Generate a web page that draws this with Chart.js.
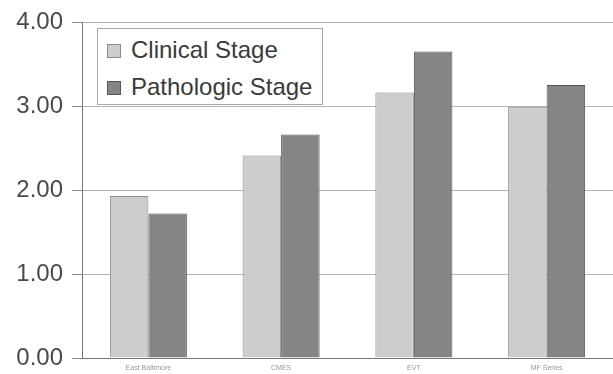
<!DOCTYPE html>
<html>
<head>
<meta charset="utf-8">
<script src="https://cdn.jsdelivr.net/npm/chart.js@4/dist/chart.umd.min.js"></script>
<style>
  html, body { margin: 0; padding: 0; background: #fff; }
  #wrap { position: relative; width: 613px; height: 374px; }
  #legend {
    position: absolute; left: 97px; top: 28px; width: 226px; height: 77px;
    border: 1px solid #a8a8a8; background: #fff; box-sizing: border-box;
    font-family: "Liberation Sans", Arial, sans-serif; font-size: 24px; color: #3a3a3a;
    padding: 2px 0 0 9px;
  }
  #legend div { height: 37px; line-height: 37px; white-space: nowrap; }
  #legend span.sw {
    display: inline-block; width: 14px; height: 14px; margin-right: 10px;
    vertical-align: 0px; box-sizing: border-box;
  }
</style>
</head>
<body>
<div id="wrap">
  <canvas id="chart" width="613" height="374"></canvas>
  <div id="legend"></div>
</div>
<script>
const categories = ['East Baltimore', 'CMES', 'EVT', 'MF Series'];
const clinicalStage = [1.93, 2.41, 3.16, 2.99];
const pathologicStage = [1.72, 2.66, 3.65, 3.25];
const yTicks = [0, 1, 2, 3, 4];

const seriesStyle = [
  { label: 'Clinical Stage', data: clinicalStage, fill: '#cdcdcd', border: '#8c8c8c' },
  { label: 'Pathologic Stage', data: pathologicStage, fill: '#858585', border: '#555555' }
];

const legend = document.getElementById('legend');
seriesStyle.forEach(s => {
  const row = document.createElement('div');
  row.innerHTML = '<span class="sw" style="background:' + s.fill + ';border:1px solid ' + s.border + '"></span>' + s.label;
  legend.appendChild(row);
});

new Chart(document.getElementById('chart').getContext('2d'), {
  type: 'bar',
  data: {
    labels: categories,
    datasets: seriesStyle.map(s => ({
      label: s.label,
      data: s.data,
      backgroundColor: s.fill,
      borderColor: s.border,
      borderWidth: 1,
      categoryPercentage: 0.58,
      barPercentage: 1
    }))
  },
  options: {
    responsive: false,
    animation: false,
    layout: { padding: { top: 22, right: 0, left: 0, bottom: 0 } },
    scales: {
      x: {
        grid: { display: false, drawTicks: false },
        border: { color: '#777', width: 1 },
        ticks: {
          color: '#999',
          font: { family: 'Liberation Sans', size: 7 },
          padding: 6,
          maxRotation: 0
        },
        afterFit: axis => { axis.height = 16; }
      },
      y: {
        min: 0,
        max: 4,
        afterBuildTicks: axis => { axis.ticks = yTicks.map(v => ({ value: v })); },
        grid: { color: '#b4b4b4', tickLength: 10, tickColor: '#888' },
        border: { color: '#777', width: 1 },
        ticks: {
          color: '#4a4a4a',
          font: { family: 'Liberation Sans', size: 24 },
          padding: 9,
          callback: v => v.toFixed(2)
        },
        afterFit: axis => {
          axis.width = 82;
          axis.paddingTop = 0;
          axis.paddingBottom = 0;
        }
      }
    },
    plugins: {
      legend: { display: false },
      tooltip: { enabled: false }
    }
  }
});
</script>
</body>
</html>
